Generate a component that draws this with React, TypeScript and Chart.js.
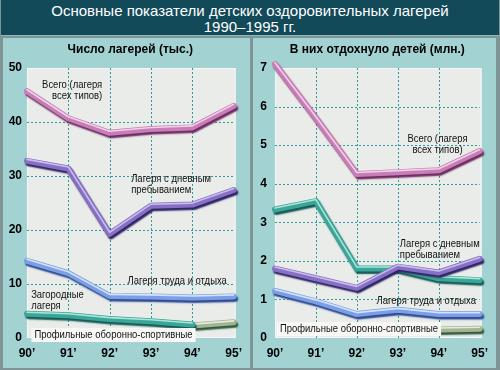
import React, { useEffect, useRef } from "react";
import { Chart, registerables } from "chart.js";
Chart.register(...registerables);

// ---------- data ----------
const years = ["90’", "91’", "92’", "93’", "94’", "95’"];

const campsTotal = [45.7, 40.7, 38.0, 38.7, 39.0, 43.0];
const campsDay = [32.8, 31.4, 19.3, 24.5, 24.7, 27.4];
const campsLabour = [14.3, 12.0, 7.8, 7.7, 7.5, 7.7];
const campsCountry = [4.5, 4.2, 3.5, 3.1, 2.5, null];
const campsSport = [null, null, null, null, 2.3, 2.9];

const kidsTotal = [7.1, 5.7, 4.25, 4.3, 4.35, 4.85];
const kidsCountry = [3.33, 3.55, 1.8, 1.8, 1.55, 1.5];
const kidsDay = [1.8, 1.55, 1.3, 1.85, 1.7, 2.05];
const kidsLabour = [1.22, 0.95, 0.62, 0.73, 0.62, 0.62];
const kidsSport = [null, null, null, null, 0.22, 0.24];

const campsTicks = [0, 10, 20, 30, 40, 50];
const kidsTicks = [0, 1, 2, 3, 4, 5, 6, 7];

const TITLE1 = "Основные показатели детских оздоровительных лагерей";
const TITLE2 = "1990–1995 гг.";
const LEFT_TITLE = "Число лагерей (тыс.)";
const RIGHT_TITLE = "В них отдохнуло детей (млн.)";

// ---------- styles ----------
const FONT = '"Liberation Sans", Arial, sans-serif';

const STYLE = {
  pink: { main: "#c77db5", shadow: "#6e2a62", hi: "#f3d0ea" },
  purple: { main: "#8770c4", shadow: "#2e2466", hi: "#c9bdf0" },
  blue: { main: "#7b9fe2", shadow: "#2d4896", hi: "#d4e2ff" },
  teal: { main: "#3ba597", shadow: "#135a55", hi: "#a8e6dc" },
  khaki: { main: "#a3b394", shadow: "#2f5a3e", hi: "#e2ecd6" },
};

type Note = { lines: string[]; x: number; y: number; align: "left" | "right" | "center"; bg?: boolean };

const leftNotes: Note[] = [
  { lines: ["Всего (лагеря", "всех типов)"], x: 1.82, y: 46.8, align: "right" },
  { lines: ["Лагеря с дневным", "пребыванием"], x: 2.52, y: 29.5, align: "left" },
  { lines: ["Лагеря труда и отдыха"], x: 2.43, y: 10.6, align: "left" },
  { lines: ["Загородные", "лагеря"], x: 0.1, y: 7.9, align: "left" },
  { lines: ["Профильные оборонно-спортивные"], x: 0.18, y: 0.55, align: "left", bg: true },
];
const rightNotes: Note[] = [
  { lines: ["Всего (лагеря", "всех типов)"], x: 3.97, y: 5.15, align: "center" },
  { lines: ["Лагеря с дневным", "пребыванием"], x: 3.05, y: 2.44, align: "left" },
  { lines: ["Лагеря труда и отдыха"], x: 2.48, y: 0.97, align: "left" },
  { lines: ["Профильные оборонно-спортивные"], x: 0.12, y: 0.23, align: "left", bg: true },
];

function ds(data: (number | null)[], key: keyof typeof STYLE) {
  const s = STYLE[key];
  return {
    data,
    borderColor: s.main,
    borderWidth: 6,
    pointRadius: 0,
    tension: 0,
    clip: false,
    spanGaps: false,
    borderJoinStyle: "round",
    borderCapStyle: "round",
    shadowCol: s.shadow,
    hiCol: s.hi,
  } as any;
}

const tubePlugin = {
  id: "tube",
  beforeDatasetDraw(chart: any, args: any) {
    const d = chart.data.datasets[args.index];
    const ctx = chart.ctx;
    ctx.save();
    ctx.shadowColor = d.shadowCol;
    ctx.shadowOffsetX = 1.5;
    ctx.shadowOffsetY = 2.5;
    ctx.shadowBlur = 1.5;
  },
  afterDatasetDraw(chart: any, args: any) {
    const ctx = chart.ctx;
    ctx.restore();
    const d = chart.data.datasets[args.index];
    const meta = chart.getDatasetMeta(args.index);
    ctx.save();
    ctx.strokeStyle = d.hiCol;
    ctx.lineWidth = 1.6;
    ctx.lineJoin = "round";
    ctx.lineCap = "round";
    ctx.beginPath();
    let started = false;
    meta.data.forEach((p: any, i: number) => {
      if (d.data[i] == null) {
        started = false;
        return;
      }
      if (!started) {
        ctx.moveTo(p.x, p.y - 1.5);
        started = true;
      } else ctx.lineTo(p.x, p.y - 1.5);
    });
    ctx.stroke();
    ctx.restore();
  },
};

function makeChart(
  canvas: HTMLCanvasElement,
  datasets: any[],
  ticks: number[],
  title: string,
  notes: Note[],
  yWidth: number,
  yPad: number,
  rightPad: number
) {
  const bgPlugin = {
    id: "bg",
    beforeDatasetsDraw(chart: any) {
      const { ctx, chartArea: a, scales } = chart;
      ctx.save();
      ctx.fillStyle = "#e9ece8";
      ctx.fillRect(a.left, a.top, a.right - a.left + 2, a.bottom - a.top);
      ctx.strokeStyle = "#f6f8f6";
      ctx.lineWidth = 1;
      ctx.strokeRect(a.left + 0.5, a.top + 0.5, a.right - a.left + 1, a.bottom - a.top - 1);
      // dotted grid
      ctx.strokeStyle = "#2f9c9c";
      ctx.setLineDash([2, 2]);
      ctx.beginPath();
      for (let i = 1; i < years.length - 1; i++) {
        const x = Math.round(scales.x.getPixelForValue(i)) + 0.5;
        ctx.moveTo(x, a.top);
        ctx.lineTo(x, a.bottom);
      }
      for (let i = 1; i < ticks.length - 1; i++) {
        const y = Math.round(scales.y.getPixelForValue(ticks[i])) + 0.5;
        ctx.moveTo(a.left, y);
        ctx.lineTo(a.right, y);
      }
      ctx.stroke();
      ctx.restore();
    },
    afterDraw(chart: any) {
      const { ctx, chartArea: a, scales } = chart;
      ctx.save();
      ctx.fillStyle = "#000";
      ctx.font = "bold 12px " + FONT;
      ctx.textAlign = "center";
      ctx.textBaseline = "middle";
      ctx.fillText(title, (a.left + a.right) / 2, 12);
      ctx.font = "11px " + FONT;
      const sx = 0.86;
      notes.forEach((n) => {
        const px = scales.x.getPixelForValue(n.x);
        const py = scales.y.getPixelForValue(n.y);
        n.lines.forEach((line, i) => {
          const yy = py + i * 11;
          const w = ctx.measureText(line).width * sx;
          const x0 = n.align === "left" ? px : n.align === "right" ? px - w : px - w / 2;
          if (n.bg) {
            ctx.fillStyle = "#f7f8f6";
            ctx.fillRect(x0 - 3, yy - 7, w + 6, 14);
          }
          ctx.save();
          ctx.translate(x0, yy);
          ctx.scale(sx, 1);
          ctx.textAlign = "left";
          ctx.fillStyle = "#111";
          ctx.fillText(line, 0, 0);
          ctx.restore();
        });
      });
      ctx.restore();
    },
  };

  return new Chart(canvas, {
    type: "line",
    data: { labels: years, datasets },
    options: {
      animation: false,
      responsive: false,
      devicePixelRatio: 1,
      layout: { padding: { top: 30, right: rightPad, left: 0, bottom: 0 } },
      plugins: { legend: { display: false }, tooltip: { enabled: false }, title: { display: false } },
      scales: {
        x: {
          offset: false,
          grid: { display: false, drawTicks: false },
          border: { display: false },
          ticks: { font: { family: FONT, size: 12, weight: "bold" }, color: "#000", padding: 8 },
          afterFit: (s: any) => {
            s.height = 30;
          },
        },
        y: {
          min: ticks[0],
          max: ticks[ticks.length - 1],
          afterBuildTicks: (s: any) => {
            s.ticks = ticks.map((v) => ({ value: v }));
          },
          grid: { display: false, drawTicks: false },
          border: { display: false },
          ticks: { font: { family: FONT, size: 12, weight: "bold" }, color: "#000", padding: yPad },
          afterFit: (s: any) => {
            s.width = yWidth;
          },
        },
      },
    } as any,
    plugins: [bgPlugin, tubePlugin],
  });
}

export default function App() {
  const leftRef = useRef<HTMLCanvasElement>(null);
  const rightRef = useRef<HTMLCanvasElement>(null);

  useEffect(() => {
    const c1 = makeChart(
      leftRef.current!,
      [
        ds(campsCountry, "teal"),
        ds(campsSport, "khaki"),
        ds(campsLabour, "blue"),
        ds(campsDay, "purple"),
        ds(campsTotal, "pink"),
      ],
      campsTicks,
      LEFT_TITLE,
      leftNotes,
      24,
      5,
      15
    );
    const c2 = makeChart(
      rightRef.current!,
      [
        ds(kidsSport, "khaki"),
        ds(kidsLabour, "blue"),
        ds(kidsDay, "purple"),
        ds(kidsCountry, "teal"),
        ds(kidsTotal, "pink"),
      ],
      kidsTicks,
      RIGHT_TITLE,
      rightNotes,
      22,
      8,
      13
    );
    return () => {
      c1.destroy();
      c2.destroy();
    };
  }, []);

  return (
    <div
      style={{
        position: "absolute",
        left: 0,
        top: 0,
        width: 500,
        height: 370,
        background: "#7f9494",
        overflow: "hidden",
      }}
    >
      <div
        style={{
          position: "absolute",
          left: 1,
          top: 0,
          width: 498,
          height: 36,
          background: "#124a5a",
          borderBottom: "1px solid #8fb8bc",
          color: "#fff",
          fontFamily: FONT,
          fontSize: 15,
          lineHeight: "16px",
          textAlign: "center",
          paddingTop: 3,
          boxSizing: "border-box",
        }}
      >
        <div>{TITLE1}</div>
        <div>{TITLE2}</div>
      </div>
      <div style={{ position: "absolute", left: 3, top: 38, width: 247, height: 330, background: "#a3d2d2" }}>
        <canvas ref={leftRef} width={247} height={330} style={{ display: "block", width: 247, height: 330 }} />
      </div>
      <div style={{ position: "absolute", left: 253, top: 38, width: 243, height: 330, background: "#a3d2d2" }}>
        <canvas ref={rightRef} width={243} height={330} style={{ display: "block", width: 243, height: 330 }} />
      </div>
    </div>
  );
}
